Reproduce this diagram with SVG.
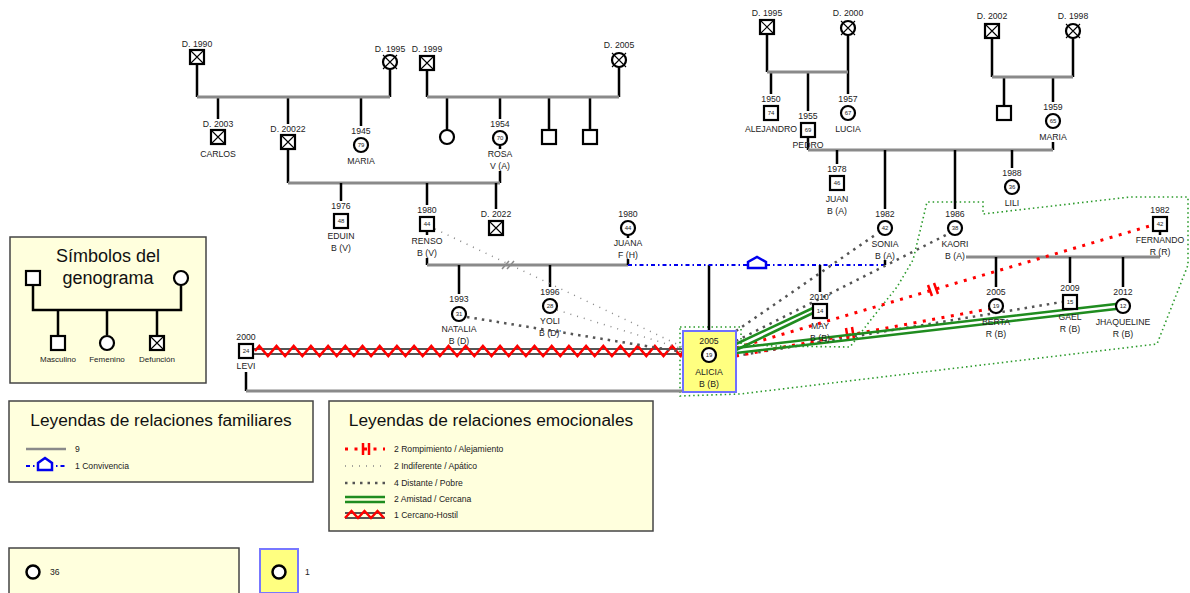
<svg xmlns="http://www.w3.org/2000/svg" width="1190" height="593" viewBox="0 0 1190 593">
<style>
.t{font-family:"Liberation Sans",Arial,sans-serif;font-size:8.7px;fill:#222;text-anchor:middle}
.a{font-family:"Liberation Sans",Arial,sans-serif;font-size:6px;fill:#222;text-anchor:middle}
.lt{font-family:"Liberation Sans",Arial,sans-serif;font-size:8.6px;fill:#222}
.ttl{font-family:"Liberation Sans",Arial,sans-serif;font-size:17.3px;fill:#111;text-anchor:middle}
.v{stroke:#000;stroke-width:2.5;fill:none}
.h{stroke:#8a8a8a;stroke-width:3;fill:none}
.nd{fill:#fff;stroke:#000;stroke-width:2.2}
.x{stroke:#000;stroke-width:1.1;fill:none}
.box{fill:#ffffdd;stroke:#444;stroke-width:1.5}
.dist{stroke:#555;stroke-width:2.5;stroke-dasharray:2.5,5;fill:none}
.ind{stroke:#888;stroke-width:1.5;stroke-dasharray:1,6;fill:none}
.rom{stroke:#ff0000;stroke-width:3;stroke-dasharray:3,6.5;fill:none}
.bar{stroke:#ff0000;stroke-width:2.5;fill:none}
.am{stroke:#1f8c1f;stroke-width:2.5;fill:none}
.conv{stroke:#0000ee;stroke-width:2;stroke-dasharray:4,3,1.5,3;fill:none}
.house{stroke:#0000ee;stroke-width:2.5;fill:#fff}
.zone{stroke:#2a9a2a;stroke-width:1.6;stroke-dasharray:1.5,3;fill:none}
.zig{stroke:#ff0000;stroke-width:2.5;fill:none}
.hd{stroke:#555;stroke-width:2;fill:none}
</style>

<!-- legends -->
<g id="legend-symbols">
<rect class="box" x="10" y="237" width="196" height="146"/>
<text class="ttl" x="108" y="262" style="font-size:18px">Símbolos del</text>
<text class="ttl" x="108" y="284" style="font-size:18px">genograma</text>
<path class="v" d="M33,284 V310 H181 V285 M58,310 V335 M107,310 V335 M157,310 V335"/>
<rect class="nd" x="26" y="271" width="14" height="14"/>
<circle class="nd" cx="181" cy="278" r="7"/>
<rect class="nd" x="51" y="336" width="14" height="14"/>
<circle class="nd" cx="107" cy="343" r="7"/>
<rect class="nd" x="150" y="336" width="14" height="14"/>
<path class="x" d="M151,337 L163,349 M163,337 L151,349"/>
<text class="t" x="58" y="362" style="font-size:8px">Masculino</text>
<text class="t" x="107" y="362" style="font-size:8px">Femenino</text>
<text class="t" x="157" y="362" style="font-size:8px">Defunción</text>
</g>

<g id="legend-family">
<rect class="box" x="9" y="401" width="304" height="81"/>
<text class="ttl" x="161" y="426">Leyendas de relaciones familiares</text>
<line class="h" x1="26" y1="449" x2="66" y2="449" style="stroke-width:2.5"/>
<text class="lt" x="75" y="452">9</text>
<line class="conv" x1="26" y1="466" x2="66" y2="466"/>
<path class="house" d="M38,470 V463 L45,458 L52,463 V470 Z"/>
<text class="lt" x="75" y="469">1 Convivencia</text>
</g>

<g id="legend-emotional">
<rect class="box" x="329" y="401" width="324" height="130"/>
<text class="ttl" x="491" y="426">Leyendas de relaciones emocionales</text>
<path class="rom" d="M345,449 H385"/>
<path class="bar" d="M363,443 V455 M369,443 V455"/>
<text class="lt" x="394" y="452">2 Rompimiento / Alejamiento</text>
<path class="ind" d="M345,466 H385"/>
<text class="lt" x="394" y="469">2 Indiferente / Apático</text>
<path class="dist" d="M345,483 H385"/>
<text class="lt" x="394" y="486">4 Distante / Pobre</text>
<path class="am" d="M345,497 H385 M345,502 H385"/>
<text class="lt" x="394" y="502">2 Amistad / Cercana</text>
<path class="hd" d="M345,513 H385 M345,518 H385"/>
<path class="zig" d="M345,518 l6.5,-7 6.5,7 6.5,-7 6.5,7 6.5,-7 6.5,7"/>
<text class="lt" x="394" y="518">1 Cercano-Hostil</text>
</g>

<g id="legend-count">
<rect class="box" x="9" y="548" width="230" height="50"/>
<circle class="nd" cx="33" cy="572" r="6.5" style="stroke-width:2.5"/>
<text class="lt" x="50" y="575">36</text>
<rect x="260" y="549" width="38" height="44" fill="#ffff80" stroke="#7777ff" stroke-width="2"/>
<circle class="nd" cx="279" cy="572" r="6.5" style="stroke-width:2.5"/>
<text class="lt" x="305" y="575">1</text>
</g>

<!-- zone -->
<path id="zone" class="zone" d="M680,327 L741,327 L741,344 L773,346 L850,347 L863,330 L873,317 L897,287 L913,260 L922,223 L927,202 L983,202 L983,214 L1130,197 L1188,197 L1188,265 L1157,344 L740,394 L680,396 Z"/>

<!-- connectors -->
<g id="connectors">
<path class="v" d="M197,64 V97 M390,69 V97 M218,97 V119 M288,97 V124 M288,149 V183 M361,97 V126"/>
<path class="h" d="M197,97 H390"/>
<path class="v" d="M427,70 V97 M619,67 V97 M447,97 V130 M500,97 V119 M549,97 V130 M590,97 V130 M500,145 V149 M500,171 V183"/>
<path class="h" d="M427,97 H619"/>
<path class="h" d="M288,183 H500"/>
<path class="v" d="M341,183 V201 M427,183 V205 M427,231 V235 M427,258 V265 M496,183 V209"/>
<path class="h" d="M427,265 H628"/>
<path d="M502,269 L509,261 M507,269 L514,261" stroke="#8a8a8a" stroke-width="1.5" fill="none"/>
<path class="v" d="M628,235 V238 M628,259 V265 M459,265 V294 M550,265 V287 M709,265 V331"/>
<line class="conv" x1="628" y1="265" x2="885" y2="265"/>
<path class="house" d="M748,268 V262 L757,257 L766,262 V268 Z"/>
<path class="v" d="M820,265 V292"/>
<path class="v" d="M246,372 V391"/>
<path class="h" d="M246,391 H683"/>
<path class="v" d="M767,34 V72 M848,35 V94 M771,72 V94 M808,72 V111 M808,137 V150"/>
<path class="h" d="M767,72 H848"/>
<path class="v" d="M992,38 V77 M1073,38 V77 M1004,77 V106 M1053,77 V102 M1053,142 V150"/>
<path class="h" d="M992,77 H1073"/>
<path class="h" d="M808,150 H1053"/>
<path class="v" d="M837,150 V164 M885,150 V209 M885,260 V265 M955,150 V209 M1012,150 V168"/>
<path class="h" d="M966,257 H1160"/>
<path class="v" d="M1160,231 V235 M996,257 V287 M1070,257 V283 M1123,257 V287"/>

<path class="hd" d="M253,349 H683 M253,354 H683"/>
<path class="zig" d="M255,351 L259.3,346 l8.6,10 8.6,-10 8.6,10 8.6,-10 8.6,10 8.6,-10 8.6,10 8.6,-10 8.6,10 8.6,-10 8.6,10 8.6,-10 8.6,10 8.6,-10 8.6,10 8.6,-10 8.6,10 8.6,-10 8.6,10 8.6,-10 8.6,10 8.6,-10 8.6,10 8.6,-10 8.6,10 8.6,-10 8.6,10 8.6,-10 8.6,10 8.6,-10 8.6,10 8.6,-10 8.6,10 8.6,-10 8.6,10 8.6,-10 8.6,10 8.6,-10 8.6,10 8.6,-10 8.6,10 8.6,-10 8.6,10 8.6,-10 8.6,10 8.6,-10 8.6,10 8.6,-10 8.6,10 l2.3,-5"/>
<path class="ind" d="M435,229 L683,347 M557,310 L683,349"/>
<path class="dist" d="M467,317 L683,352"/>
<path class="dist" d="M736,331 L878,233 M736,341 L948,234 M736,356 L1062,302"/>
<path class="rom" d="M736,348 L1153,225 M736,356 L989,309"/>
<path class="bar" d="M928,285 L932,296 M934,283 L938,294 M846,328 L848,340 M852,327 L854,339"/>
<path class="am" d="M736,344 L813,308 M736,350 L813,313"/>
<path class="am" d="M736,348 L1116,304 M736,353 L1116,309"/>
</g>

<g id="n-d1990"><text class="t" x="197" y="47">D. 1990</text><rect class="nd" x="190" y="50" width="14" height="14"/><path class="x" d="M191,51 L203,63 M203,51 L191,63"/></g>
<g id="n-d1995a"><text class="t" x="390" y="52">D. 1995</text><circle class="nd" cx="390" cy="62" r="7"/><path class="x" d="M383,55 L397,69 M397,55 L383,69"/></g>
<g id="n-carlos"><text class="t" x="218" y="127">D. 2003</text><rect class="nd" x="211" y="130" width="14" height="14"/><path class="x" d="M212,131 L224,143 M224,131 L212,143"/><text class="t" x="218" y="157">CARLOS</text></g>
<g id="n-d20022"><text class="t" x="288" y="132">D. 20022</text><rect class="nd" x="281" y="135" width="14" height="14"/><path class="x" d="M282,136 L294,148 M294,136 L282,148"/></g>
<g id="n-maria1945"><text class="t" x="361" y="134">1945</text><circle class="nd" cx="361" cy="145" r="7"/><text class="a" x="361" y="147">79</text><text class="t" x="361" y="164">MARIA</text></g>
<g id="n-d1999"><text class="t" x="427" y="52">D. 1999</text><rect class="nd" x="420" y="56" width="14" height="14"/><path class="x" d="M421,57 L433,69 M433,57 L421,69"/></g>
<g id="n-d2005"><text class="t" x="619" y="48">D. 2005</text><circle class="nd" cx="619" cy="60" r="7"/><path class="x" d="M612,53 L626,67 M626,53 L612,67"/></g>
<g id="n-f447"><circle class="nd" cx="447" cy="137" r="7"/></g>
<g id="n-rosa"><text class="t" x="500" y="127">1954</text><circle class="nd" cx="500" cy="138" r="7"/><text class="a" x="500" y="140">70</text><text class="t" x="500" y="157">ROSA</text><text class="t" x="500" y="169">V (A)</text></g>
<g id="n-m549"><rect class="nd" x="542" y="130" width="14" height="14"/></g>
<g id="n-m590"><rect class="nd" x="583" y="130" width="14" height="14"/></g>
<g id="n-eduin"><text class="t" x="341" y="209">1976</text><rect class="nd" x="334" y="214" width="14" height="14"/><text class="a" x="341" y="223">48</text><text class="t" x="341" y="239">EDUIN</text><text class="t" x="341" y="251">B (V)</text></g>
<g id="n-renso"><text class="t" x="427" y="213">1980</text><rect class="nd" x="420" y="217" width="14" height="14"/><text class="a" x="427" y="226">44</text><text class="t" x="427" y="244">RENSO</text><text class="t" x="427" y="256">B (V)</text></g>
<g id="n-d2022"><text class="t" x="496" y="217">D. 2022</text><rect class="nd" x="489" y="221" width="14" height="14"/><path class="x" d="M490,222 L502,234 M502,222 L490,234"/></g>
<g id="n-juana"><text class="t" x="628" y="217">1980</text><circle class="nd" cx="628" cy="228" r="7"/><text class="a" x="628" y="230">44</text><text class="t" x="628" y="246">JUANA</text><text class="t" x="628" y="258">F (H)</text></g>
<g id="n-natalia"><text class="t" x="459" y="302">1993</text><circle class="nd" cx="459" cy="314" r="7"/><text class="a" x="459" y="316">31</text><text class="t" x="459" y="332">NATALIA</text><text class="t" x="459" y="344">B (D)</text></g>
<g id="n-yoli"><text class="t" x="550" y="295">1996</text><circle class="nd" cx="550" cy="306" r="7"/><text class="a" x="550" y="308">28</text><text class="t" x="550" y="324">YOLI</text><text class="t" x="550" y="336">B (D)'</text></g>
<g id="n-levi"><text class="t" x="246" y="340">2000</text><rect class="nd" x="239" y="344" width="14" height="14"/><text class="a" x="246" y="353">24</text><text class="t" x="246" y="369">LEVI</text></g>
<g id="n-alicia"><rect x="683" y="331" width="53" height="61" fill="#ffff80" stroke="#7070ff" stroke-width="2"/><text class="t" x="709" y="344">2005</text><circle class="nd" cx="709" cy="355" r="7"/><text class="a" x="709" y="357">19</text><text class="t" x="709" y="375">ALICIA</text><text class="t" x="709" y="387">B (B)</text></g>

<g id="n-d1995b"><text class="t" x="767" y="16">D. 1995</text><rect class="nd" x="760" y="20" width="14" height="14"/><path class="x" d="M761,21 L773,33 M773,21 L761,33"/></g>
<g id="n-d2000"><text class="t" x="848" y="16">D. 2000</text><circle class="nd" cx="848" cy="28" r="7"/><path class="x" d="M841,21 L855,35 M855,21 L841,35"/></g>
<g id="n-alejandro"><text class="t" x="771" y="102">1950</text><rect class="nd" x="764" y="106" width="14" height="14"/><text class="a" x="771" y="115">74</text><text class="t" x="771" y="132">ALEJANDRO</text></g>
<g id="n-pedro"><text class="t" x="808" y="119">1955</text><rect class="nd" x="801" y="123" width="14" height="14"/><text class="a" x="808" y="132">69</text><text class="t" x="808" y="148">PEDRO</text></g>
<g id="n-lucia"><text class="t" x="848" y="102">1957</text><circle class="nd" cx="848" cy="113" r="7"/><text class="a" x="848" y="115">67</text><text class="t" x="848" y="132">LUCIA</text></g>
<g id="n-d2002"><text class="t" x="992" y="19">D. 2002</text><rect class="nd" x="985" y="24" width="14" height="14"/><path class="x" d="M986,25 L998,37 M998,25 L986,37"/></g>
<g id="n-d1998"><text class="t" x="1073" y="19">D. 1998</text><circle class="nd" cx="1073" cy="31" r="7"/><path class="x" d="M1066,24 L1080,38 M1080,24 L1066,38"/></g>
<g id="n-m1004"><rect class="nd" x="997" y="106" width="14" height="14"/></g>
<g id="n-maria1959"><text class="t" x="1053" y="110">1959</text><circle class="nd" cx="1053" cy="121" r="7"/><text class="a" x="1053" y="123">65</text><text class="t" x="1053" y="140">MARIA</text></g>
<g id="n-juan"><text class="t" x="837" y="172">1978</text><rect class="nd" x="830" y="176" width="14" height="14"/><text class="a" x="837" y="185">46</text><text class="t" x="837" y="202">JUAN</text><text class="t" x="837" y="214">B (A)</text></g>
<g id="n-sonia"><text class="t" x="885" y="217">1982</text><circle class="nd" cx="885" cy="228" r="7"/><text class="a" x="885" y="230">42</text><text class="t" x="885" y="247">SONIA</text><text class="t" x="885" y="259">B (A)</text></g>
<g id="n-kaori"><text class="t" x="955" y="217">1986</text><circle class="nd" cx="955" cy="228" r="7"/><text class="a" x="955" y="230">38</text><text class="t" x="955" y="247">KAORI</text><text class="t" x="955" y="259">B (A)</text></g>
<g id="n-lili"><text class="t" x="1012" y="176">1988</text><circle class="nd" cx="1012" cy="187" r="7"/><text class="a" x="1012" y="189">36</text><text class="t" x="1012" y="206">LILI</text></g>
<g id="n-may"><text class="t" x="820" y="300">2010'</text><rect class="nd" x="813" y="304" width="14" height="14"/><text class="a" x="820" y="313">14</text><text class="t" x="820" y="329">MAY</text><text class="t" x="820" y="341">B (B)</text></g>
<g id="n-fernando"><text class="t" x="1160" y="213">1982</text><rect class="nd" x="1153" y="217" width="14" height="14"/><text class="a" x="1160" y="226">42</text><text class="t" x="1160" y="243">FERNANDO</text><text class="t" x="1160" y="255">R (R)</text></g>
<g id="n-berta"><text class="t" x="996" y="295">2005</text><circle class="nd" cx="996" cy="306" r="7"/><text class="a" x="996" y="308">19</text><text class="t" x="996" y="325">BERTA</text><text class="t" x="996" y="337">R (B)</text></g>
<g id="n-gael"><text class="t" x="1070" y="291">2009</text><rect class="nd" x="1063" y="295" width="14" height="14"/><text class="a" x="1070" y="304">15</text><text class="t" x="1070" y="320">GAEL</text><text class="t" x="1070" y="332">R (B)</text></g>
<g id="n-jhaqueline"><text class="t" x="1123" y="295">2012</text><circle class="nd" cx="1123" cy="306" r="7"/><text class="a" x="1123" y="308">12</text><text class="t" x="1123" y="325">JHAQUELINE</text><text class="t" x="1123" y="337">R (B)</text></g>
</svg>
